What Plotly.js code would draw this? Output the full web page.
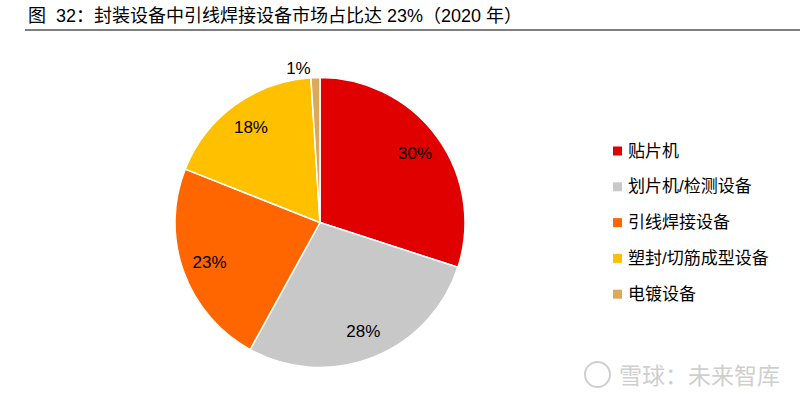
<!DOCTYPE html>
<html>
<head>
<meta charset="utf-8">
<script src="https://cdn.plot.ly/plotly-3.0.1.min.js"></script>
<style>html,body{margin:0;padding:0;background:#fff;}#chart{width:800px;height:399px;}</style>
</head>
<body>
<div id="chart"></div>
<script>
const categories = ['贴片机', '划片机/检测设备', '引线焊接设备', '塑封/切筋成型设备', '电镀设备'];
const shares = [30, 28, 23, 18, 1];
const colors = ['#E00000', '#C8C8C8', '#FF6600', '#FFC000', '#DBA95A'];
const titleText = '图\u00a0\u00a032：封装设备中引线焊接设备市场占比达 23%（2020 年）';
const watermark = '雪球：未来智库';

const W = 800, H = 399;
const FONT = 'Liberation Sans, Arial, Noto Sans CJK SC, sans-serif';
const pieDomain = {x: [175 / W, 465 / W], y: [1 - 367.5 / H, 1 - 77.5 / H]};

// filled slices
const pieTrace = {
  type: 'pie',
  labels: categories,
  values: shares,
  sort: false,
  direction: 'clockwise',
  rotation: 0,
  marker: {colors: colors, line: {color: '#ffffff', width: 1.5}},
  textinfo: 'none',
  domain: pieDomain,
  showlegend: false,
  hoverinfo: 'label+percent'
};

// transparent ring carrying the percentage labels at ~0.8 of the radius
const labelTrace = {
  type: 'pie',
  labels: categories,
  values: shares,
  sort: false,
  direction: 'clockwise',
  rotation: 0,
  hole: 0.62,
  marker: {colors: categories.map(() => 'rgba(0,0,0,0)'), line: {width: 0}},
  texttemplate: '%{value}%',
  textinfo: 'text',
  textposition: ['inside', 'inside', 'inside', 'inside', 'outside'],
  insidetextorientation: 'horizontal',
  textfont: {family: FONT, size: 17, color: '#000000'},
  outsidetextfont: {family: FONT, size: 17, color: '#000000'},
  insidetextfont: {family: FONT, size: 17, color: '#000000'},
  domain: pieDomain,
  showlegend: false,
  hoverinfo: 'skip'
};

const annotations = [];
const shapes = [];

// title
annotations.push({
  text: titleText, xref: 'paper', yref: 'paper', x: 26 / W, y: 1 - 16 / H,
  xanchor: 'left', yanchor: 'middle', showarrow: false,
  font: {family: FONT, size: 18, color: '#000000'}
});
shapes.push({type: 'line', xref: 'paper', yref: 'paper', x0: 25 / W, x1: 1, y0: 1 - 30 / H, y1: 1 - 30 / H,
  line: {color: '#000000', width: 1}});

// legend (built from categories/colors)
const legX = 613, legY0 = 151, legStep = 35.8, sq = 9;
categories.forEach((c, i) => {
  const yc = legY0 + i * legStep;
  shapes.push({type: 'rect', xref: 'paper', yref: 'paper',
    x0: legX / W, x1: (legX + sq) / W, y0: 1 - (yc + sq / 2) / H, y1: 1 - (yc - sq / 2) / H,
    fillcolor: colors[i], line: {width: 0}});
  annotations.push({text: c, xref: 'paper', yref: 'paper', x: (legX + 13) / W, y: 1 - yc / H,
    xanchor: 'left', yanchor: 'middle', showarrow: false,
    font: {family: FONT, size: 17, color: '#000000'}});
});

// watermark
annotations.push({text: watermark, xref: 'paper', yref: 'paper', x: 617 / W, y: 1 - 374 / H,
  xanchor: 'left', yanchor: 'middle', showarrow: false,
  font: {family: 'Noto Sans CJK SC, sans-serif', size: 23, color: '#cfcfcf'}});
shapes.push({type: 'circle', xref: 'paper', yref: 'paper',
  x0: 585 / W, x1: 610 / W, y0: 1 - 387 / H, y1: 1 - 362 / H,
  line: {color: '#cfcfcf', width: 2}});

const layout = {
  width: W, height: H,
  margin: {l: 0, r: 0, t: 0, b: 0},
  paper_bgcolor: '#ffffff',
  plot_bgcolor: '#ffffff',
  showlegend: false,
  annotations: annotations,
  shapes: shapes,
  font: {family: FONT}
};

Plotly.newPlot('chart', [pieTrace, labelTrace], layout, {displayModeBar: false, staticPlot: true});
</script>
</body>
</html>
